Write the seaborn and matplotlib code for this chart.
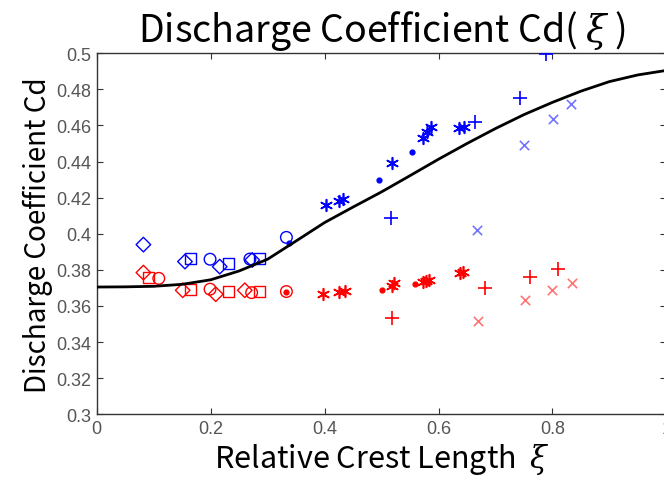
import matplotlib
matplotlib.use("Agg")
import matplotlib.pyplot as plt
import seaborn as sns
import pandas as pd

# ---- fitted curve ----
curve_xi = [0.0, 0.05, 0.1, 0.15, 0.2, 0.25, 0.3, 0.35, 0.4, 0.45, 0.5, 0.55,
            0.6, 0.65, 0.7, 0.75, 0.8, 0.85, 0.9, 0.95, 1.0]
curve_cd = [0.3705, 0.3706, 0.3709, 0.3720, 0.3745, 0.3794, 0.3859, 0.3960,
            0.4062, 0.4148, 0.4232, 0.4322, 0.4413, 0.4500, 0.4583, 0.4660,
            0.4728, 0.4790, 0.4843, 0.4880, 0.4905]

# ---- measured points ----
blue_diamond_xi = [0.082, 0.155, 0.216, 0.273]
blue_diamond_cd = [0.394, 0.3846, 0.3818, 0.3855]
blue_square_xi = [0.164, 0.231, 0.286]
blue_square_cd = [0.3863, 0.3835, 0.3863]
blue_circle_xi = [0.199, 0.269, 0.333]
blue_circle_cd = [0.3859, 0.3860, 0.3980]
blue_dot_xi = [0.338, 0.495, 0.554]
blue_dot_cd = [0.3947, 0.4298, 0.4453]
blue_star_xi = [0.402, 0.425, 0.432, 0.519, 0.573, 0.579, 0.586, 0.636, 0.644]
blue_star_cd = [0.4158, 0.4180, 0.4190, 0.4391, 0.4533, 0.4564, 0.4594, 0.4585, 0.4590]
blue_plus_xi = [0.516, 0.664, 0.743, 0.789]
blue_plus_cd = [0.4090, 0.4620, 0.4751, 0.4994]
blue_x_xi = [0.667, 0.750, 0.801, 0.833]
blue_x_cd = [0.4021, 0.4492, 0.4634, 0.4717]

red_diamond_xi = [0.082, 0.151, 0.209, 0.260]
red_diamond_cd = [0.3785, 0.3687, 0.3665, 0.3687]
red_square_xi = [0.091, 0.165, 0.231, 0.286]
red_square_cd = [0.3757, 0.3693, 0.3680, 0.3680]
red_circle_xi = [0.109, 0.199, 0.272, 0.333]
red_circle_cd = [0.3753, 0.3693, 0.3674, 0.3680]
red_dot_xi = [0.333, 0.500, 0.558]
red_dot_cd = [0.3680, 0.3687, 0.3720]
red_star_xi = [0.398, 0.425, 0.435, 0.518, 0.522, 0.573, 0.578, 0.584, 0.637, 0.643]
red_star_cd = [0.3665, 0.3680, 0.3682, 0.3710, 0.3725, 0.3735, 0.3740, 0.3745, 0.3780, 0.3788]
red_plus_xi = [0.518, 0.681, 0.760, 0.810]
red_plus_cd = [0.3532, 0.3698, 0.3760, 0.3803]
red_x_xi = [0.670, 0.751, 0.800, 0.834]
red_x_cd = [0.3517, 0.3632, 0.3687, 0.3730]

x_ticks = [0, 0.2, 0.4, 0.6, 0.8, 1.0]
x_tick_labels = ["0", "0.2", "0.4", "0.6", "0.8", "1"]
y_ticks = [0.3, 0.32, 0.34, 0.36, 0.38, 0.4, 0.42, 0.44, 0.46, 0.48, 0.5]
y_tick_labels = ["0.3", "0.32", "0.34", "0.36", "0.38", "0.4", "0.42", "0.44", "0.46", "0.48", "0.5"]

sns.set_theme(style="white")
plt.rcParams["font.family"] = ["Noto Sans CJK JP", "DejaVu Sans"]
plt.rcParams["mathtext.fontset"] = "dejavuserif"

fig = plt.figure(figsize=(6.64, 4.81), dpi=100)
ax = fig.add_axes([0.1456, 0.1366, 0.858, 0.7506])

BLUE = "#0000ff"
RED = "#ff0000"

series = [
    (blue_diamond_xi, blue_diamond_cd, BLUE, "D", 55, True, 1.0),
    (blue_square_xi, blue_square_cd, BLUE, "s", 65, True, 1.0),
    (blue_circle_xi, blue_circle_cd, BLUE, "o", 70, True, 1.0),
    (red_diamond_xi, red_diamond_cd, RED, "D", 55, True, 1.0),
    (red_square_xi, red_square_cd, RED, "s", 65, True, 1.0),
    (red_circle_xi, red_circle_cd, RED, "o", 70, True, 1.0),
    (blue_dot_xi, blue_dot_cd, BLUE, "o", 12, False, 1.0),
    (red_dot_xi, red_dot_cd, RED, "o", 12, False, 1.0),
    (blue_star_xi, blue_star_cd, BLUE, (6, 2, 0), 70, None, 1.0),
    (red_star_xi, red_star_cd, RED, (6, 2, 0), 70, None, 1.0),
    (blue_plus_xi, blue_plus_cd, BLUE, "+", 110, None, 1.0),
    (red_plus_xi, red_plus_cd, RED, "+", 110, None, 1.0),
    (blue_x_xi, blue_x_cd, BLUE, "x", 45, None, 0.55),
    (red_x_xi, red_x_cd, RED, "x", 45, None, 0.55),
]

for xs, ys, col, mk, size, hollow, alpha in series:
    df = pd.DataFrame({"xi": xs, "cd": ys})
    if hollow is None:
        sns.scatterplot(data=df, x="xi", y="cd", marker=mk, s=size, color=col,
                        linewidth=1.2, alpha=alpha, ax=ax, legend=False, zorder=3)
    else:
        sns.scatterplot(data=df, x="xi", y="cd", marker=mk, s=size, color=col,
                        linewidth=1.0, ax=ax, legend=False, zorder=3)
        coll = ax.collections[-1]
        coll.set_edgecolor(col)
        if hollow:
            coll.set_facecolor("none")

curve_df = pd.DataFrame({"xi": curve_xi, "cd": curve_cd})
sns.lineplot(data=curve_df, x="xi", y="cd", color="black", linewidth=2.0,
             ax=ax, legend=False, zorder=4)

ax.set_xlim(0, 1)
ax.set_ylim(0.3, 0.5)
ax.set_xticks(x_ticks)
ax.set_xticklabels(x_tick_labels)
ax.set_yticks(y_ticks)
ax.set_yticklabels(y_tick_labels)
ax.tick_params(direction="in", length=4, width=0.8, color="#333333",
               labelsize=13, labelcolor="#555555", top=True, right=True,
               bottom=True, left=True, pad=4)
for lab in ax.get_xticklabels() + ax.get_yticklabels():
    lab.set_family(["Liberation Sans", "DejaVu Sans"])
for sp in ax.spines.values():
    sp.set_visible(True)
    sp.set_color("#333333")
    sp.set_linewidth(1.0)

ax.set_title(r"Discharge Coefficient Cd( $\xi$ )", fontsize=27, color="black", pad=9)
ax.set_xlabel(r"Relative Crest Length  $\xi$", fontsize=22, color="black", labelpad=3)
ax.set_ylabel("Discharge Coefficient Cd", fontsize=20, color="black", labelpad=2)

fig.savefig("out.png", dpi=100)
